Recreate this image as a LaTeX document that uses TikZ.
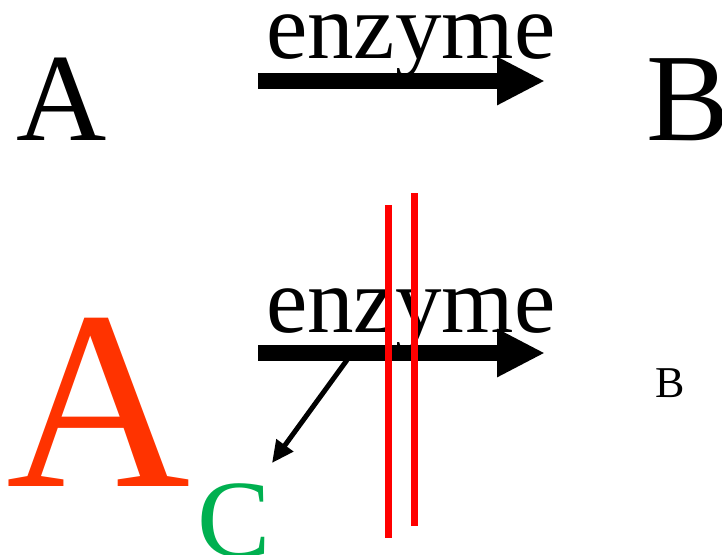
\documentclass[tikz,border=0pt]{standalone}
\usepackage{fontspec}
\setmainfont{Liberation Serif}
\usetikzlibrary{arrows.meta}
\definecolor{substrate}{RGB}{255,51,0}
\definecolor{product}{RGB}{0,176,80}
\begin{document}
\begin{tikzpicture}[
  x=1pt, y=-1pt,
  every node/.style={inner sep=0pt, anchor=base west},
  bigarrow/.style={line width=16pt, -{Triangle[length=48pt,width=45pt]}},
  sidearrow/.style={line width=5pt, -{Triangle[length=22pt,width=20pt]}},
  blocker/.style={draw=red, line width=7pt}
]
\useasboundingbox (0,0) rectangle (722,554);
% first reaction
\node (topA) at (16,140) {\fontsize{125}{125}\selectfont A};
\node (topB) at (646,140) {\fontsize{125}{125}\selectfont B};
\node (topenz) at (266,58) {\fontsize{93}{93}\selectfont enzyme};
\coordinate (topstart) at (258,81);
\coordinate (topend) at (545,81);
\draw[bigarrow] (topstart) -- (topend);
% second reaction, blocked
\node[text=substrate] (botA) at (6,486) {\fontsize{255}{255}\selectfont A};
\node (botB) at (655,397) {\fontsize{44}{44}\selectfont B};
\node[text=product] (botC) at (197,556) {\fontsize{110}{110}\selectfont C};
\node (botenz) at (266,332) {\fontsize{93}{93}\selectfont enzyme};
\coordinate (botstart) at (258,353);
\coordinate (botend) at (545,353);
\coordinate (branch) at (347,360);
\coordinate (sidetip) at (272,463);
\draw[bigarrow] (botstart) -- (botend);
\draw[sidearrow] (branch) -- (sidetip);
\draw[blocker] (388,205) -- (388,538);
\draw[blocker] (414,193) -- (414,526);
\end{tikzpicture}
\end{document}
